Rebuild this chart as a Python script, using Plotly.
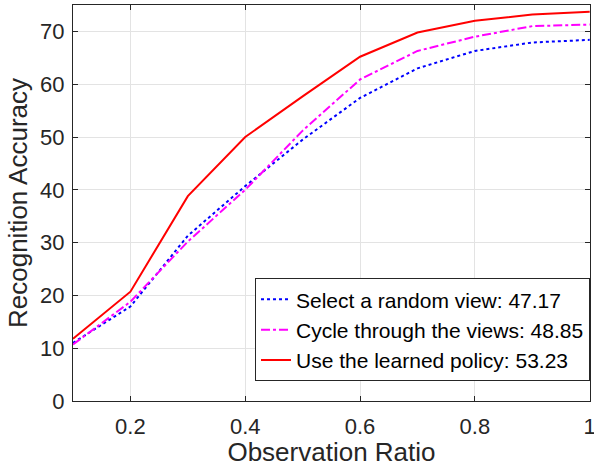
import plotly.graph_objects as go

ratios = [0.1, 0.2, 0.3, 0.4, 0.5, 0.6, 0.7, 0.8, 0.9, 1.0]
random_view = [11.0, 17.9, 31.3, 40.7, 49.5, 57.4, 63.0, 66.3, 67.9, 68.4]
cycle_views = [10.7, 18.8, 30.2, 40.0, 51.2, 60.9, 66.3, 69.0, 71.0, 71.3]
learned_policy = [11.8, 20.7, 38.8, 50.0, 57.7, 65.2, 69.8, 72.0, 73.2, 73.7]
names = ["Select a random view: 47.17", "Cycle through the views: 48.85", "Use the learned policy: 53.23"]
x_ticks = [0.2, 0.4, 0.6, 0.8, 1.0]
x_tick_labels = ["0.2", "0.4", "0.6", "0.8", "1"]
y_ticks = [0, 10, 20, 30, 40, 50, 60, 70]

FONT = "Liberation Sans, Arial, sans-serif"

fig = go.Figure()
fig.add_trace(go.Scatter(x=ratios, y=random_view, mode="lines", name=names[0],
                         line=dict(color="#0000FF", width=2, dash="dot")))
fig.add_trace(go.Scatter(x=ratios, y=cycle_views, mode="lines", name=names[1],
                         line=dict(color="#FF00FF", width=2, dash="dashdot")))
fig.add_trace(go.Scatter(x=ratios, y=learned_policy, mode="lines", name=names[2],
                         line=dict(color="#FF0000", width=2, dash="solid")))

axis_common = dict(showline=True, linecolor="#262626", linewidth=1, mirror="ticks",
                   ticks="inside", ticklen=5, tickcolor="#262626", automargin=False,
                   showgrid=True, gridcolor="#E3E3E3", gridwidth=1, zeroline=False,
                   ticklabeloverflow="allow",
                   tickfont=dict(family=FONT, size=22, color="#262626"))

fig.update_layout(
    width=594, height=467,
    margin=dict(l=73, r=4, t=5, b=66),
    paper_bgcolor="white", plot_bgcolor="white",
    font=dict(family=FONT, color="#262626"),
    xaxis=dict(range=[0.1, 1.0005], tickvals=x_ticks, ticktext=x_tick_labels,
               ticklabelstandoff=6,
               title=dict(text="Observation Ratio", font=dict(size=26, color="#262626"), standoff=7),
               **axis_common),
    yaxis=dict(range=[0, 75], tickvals=y_ticks, ticklabelstandoff=3,
               title=dict(text="Recognition Accuracy", font=dict(size=26, color="#262626"), standoff=5),
               **axis_common),
    legend=dict(x=1.0, y=0.18, xanchor="right", yanchor="middle",
                bgcolor="white", bordercolor="#262626", borderwidth=1,
                font=dict(size=21, color="#000000"), tracegroupgap=0,
                itemwidth=30),
    showlegend=True,
)

fig.write_html("out.html", config={"displayModeBar": False},
               post_script="document.body.style.margin='0px';")
